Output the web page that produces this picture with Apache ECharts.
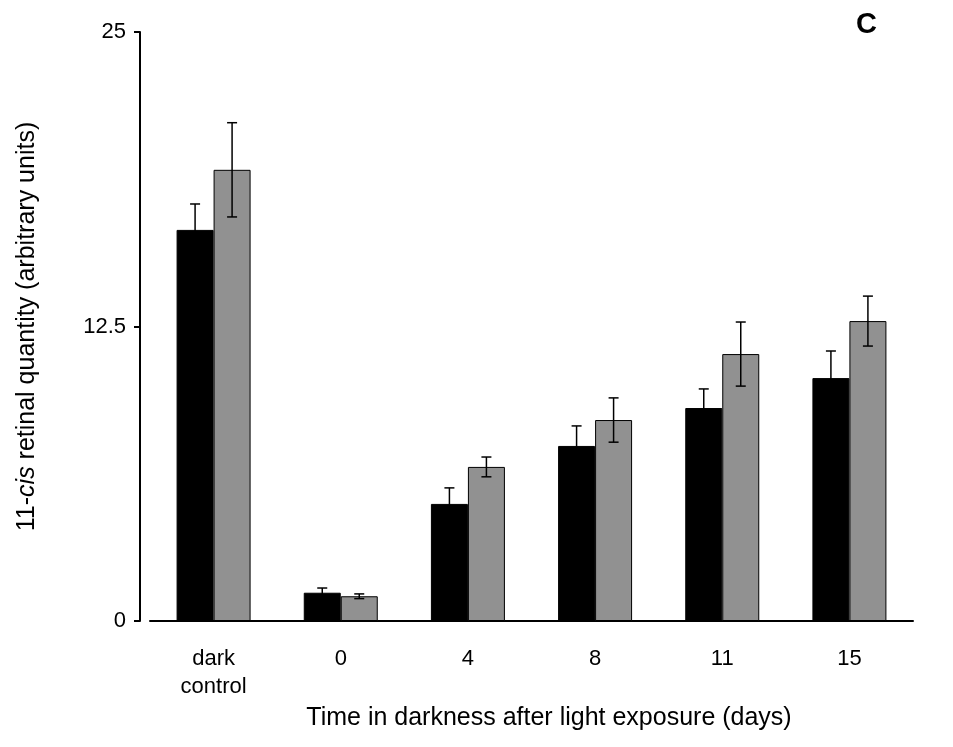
<!DOCTYPE html>
<html>
<head>
<meta charset="utf-8">
<script src="https://cdn.jsdelivr.net/npm/echarts@6/dist/echarts.min.js"></script>
<style>html,body{margin:0;background:#fff}#chart{width:953px;height:747px}</style>
</head>
<body>
<div id="chart"></div>
<script>
const categories = ['dark\ncontrol', '0', '4', '8', '11', '15'];
const blackValues = [16.6, 1.2, 4.97, 7.43, 9.04, 10.31];
const blackErrors = [1.1, 0.2, 0.68, 0.85, 0.81, 1.15];
const greyValues = [19.15, 1.05, 6.54, 8.53, 11.33, 12.73];
const greyErrors = [2.0, 0.1, 0.42, 0.94, 1.36, 1.06];
const yTicks = [0, 12.5, 25];

const font = 'Liberation Sans, Arial, sans-serif';

function errorSeries(values, errors, shift) {
    return {
        type: 'custom',
        z: 10,
        renderItem: function (params, api) {
            const i = api.value(0);
            const v = api.value(1);
            const e = api.value(2);
            const top = api.coord([i, v + e]);
            const bot = api.coord([i, v - e]);
            const x = top[0] + shift * 18.5;
            const cap = 5;
            const st = { stroke: '#000', lineWidth: 1.5 };
            return {
                type: 'group',
                children: [
                    { type: 'line', shape: { x1: x, y1: top[1], x2: x, y2: bot[1] }, style: st },
                    { type: 'line', shape: { x1: x - cap, y1: top[1], x2: x + cap, y2: top[1] }, style: st },
                    { type: 'line', shape: { x1: x - cap, y1: bot[1], x2: x + cap, y2: bot[1] }, style: st }
                ]
            };
        },
        data: values.map(function (v, i) { return [i, v, errors[i]]; })
    };
}

const chart = echarts.init(document.getElementById('chart'));
chart.setOption({
    animation: false,
    grid: { left: 150, right: 40, top: 32, bottom: 126 },
    xAxis: {
        type: 'category',
        data: categories,
        axisLine: { lineStyle: { color: '#000', width: 2 } },
        axisTick: { show: false },
        axisLabel: { color: '#000', fontSize: 22, fontFamily: font, margin: 24, lineHeight: 28 },
        name: 'Time in darkness after light exposure (days)',
        nameLocation: 'middle',
        nameGap: 78,
        nameTextStyle: { color: '#000', fontSize: 25, fontFamily: font, padding: [0, 0, 0, 35] }
    },
    yAxis: {
        type: 'value',
        min: 0, max: 25, interval: 12.5,
        offset: 10,
        splitLine: { show: false },
        axisLine: { show: true, lineStyle: { color: '#000', width: 2 } },
        axisTick: { show: true, length: 6, lineStyle: { color: '#000', width: 2 } },
        axisLabel: {
            color: '#000', fontSize: 22, fontFamily: font, margin: 14,
            formatter: function (v) { return yTicks.indexOf(v) >= 0 ? String(v) : ''; }
        },
        name: '{n|11-}{i|cis}{n| retinal quantity (arbitrary units)}',
        nameLocation: 'middle',
        nameGap: 100,
        nameTextStyle: {
            rich: {
                n: { color: '#000', fontSize: 25, fontFamily: font },
                i: { color: '#000', fontSize: 25, fontFamily: font, fontStyle: 'italic' }
            }
        }
    },
    graphic: [{
        type: 'text', left: 856, top: 10,
        style: { text: 'C', fontSize: 29, fontWeight: 'bold', fontFamily: font, fill: '#000' }
    }],
    series: [
        { type: 'bar', data: blackValues, barWidth: 37, barGap: '0%',
          itemStyle: { color: '#000', borderColor: '#000', borderWidth: 1 } },
        { type: 'bar', data: greyValues, barWidth: 37, barGap: '0%',
          itemStyle: { color: '#919191', borderColor: '#000', borderWidth: 1 } },
        errorSeries(blackValues, blackErrors, -1),
        errorSeries(greyValues, greyErrors, 1)
    ]
});
</script>
</body>
</html>
